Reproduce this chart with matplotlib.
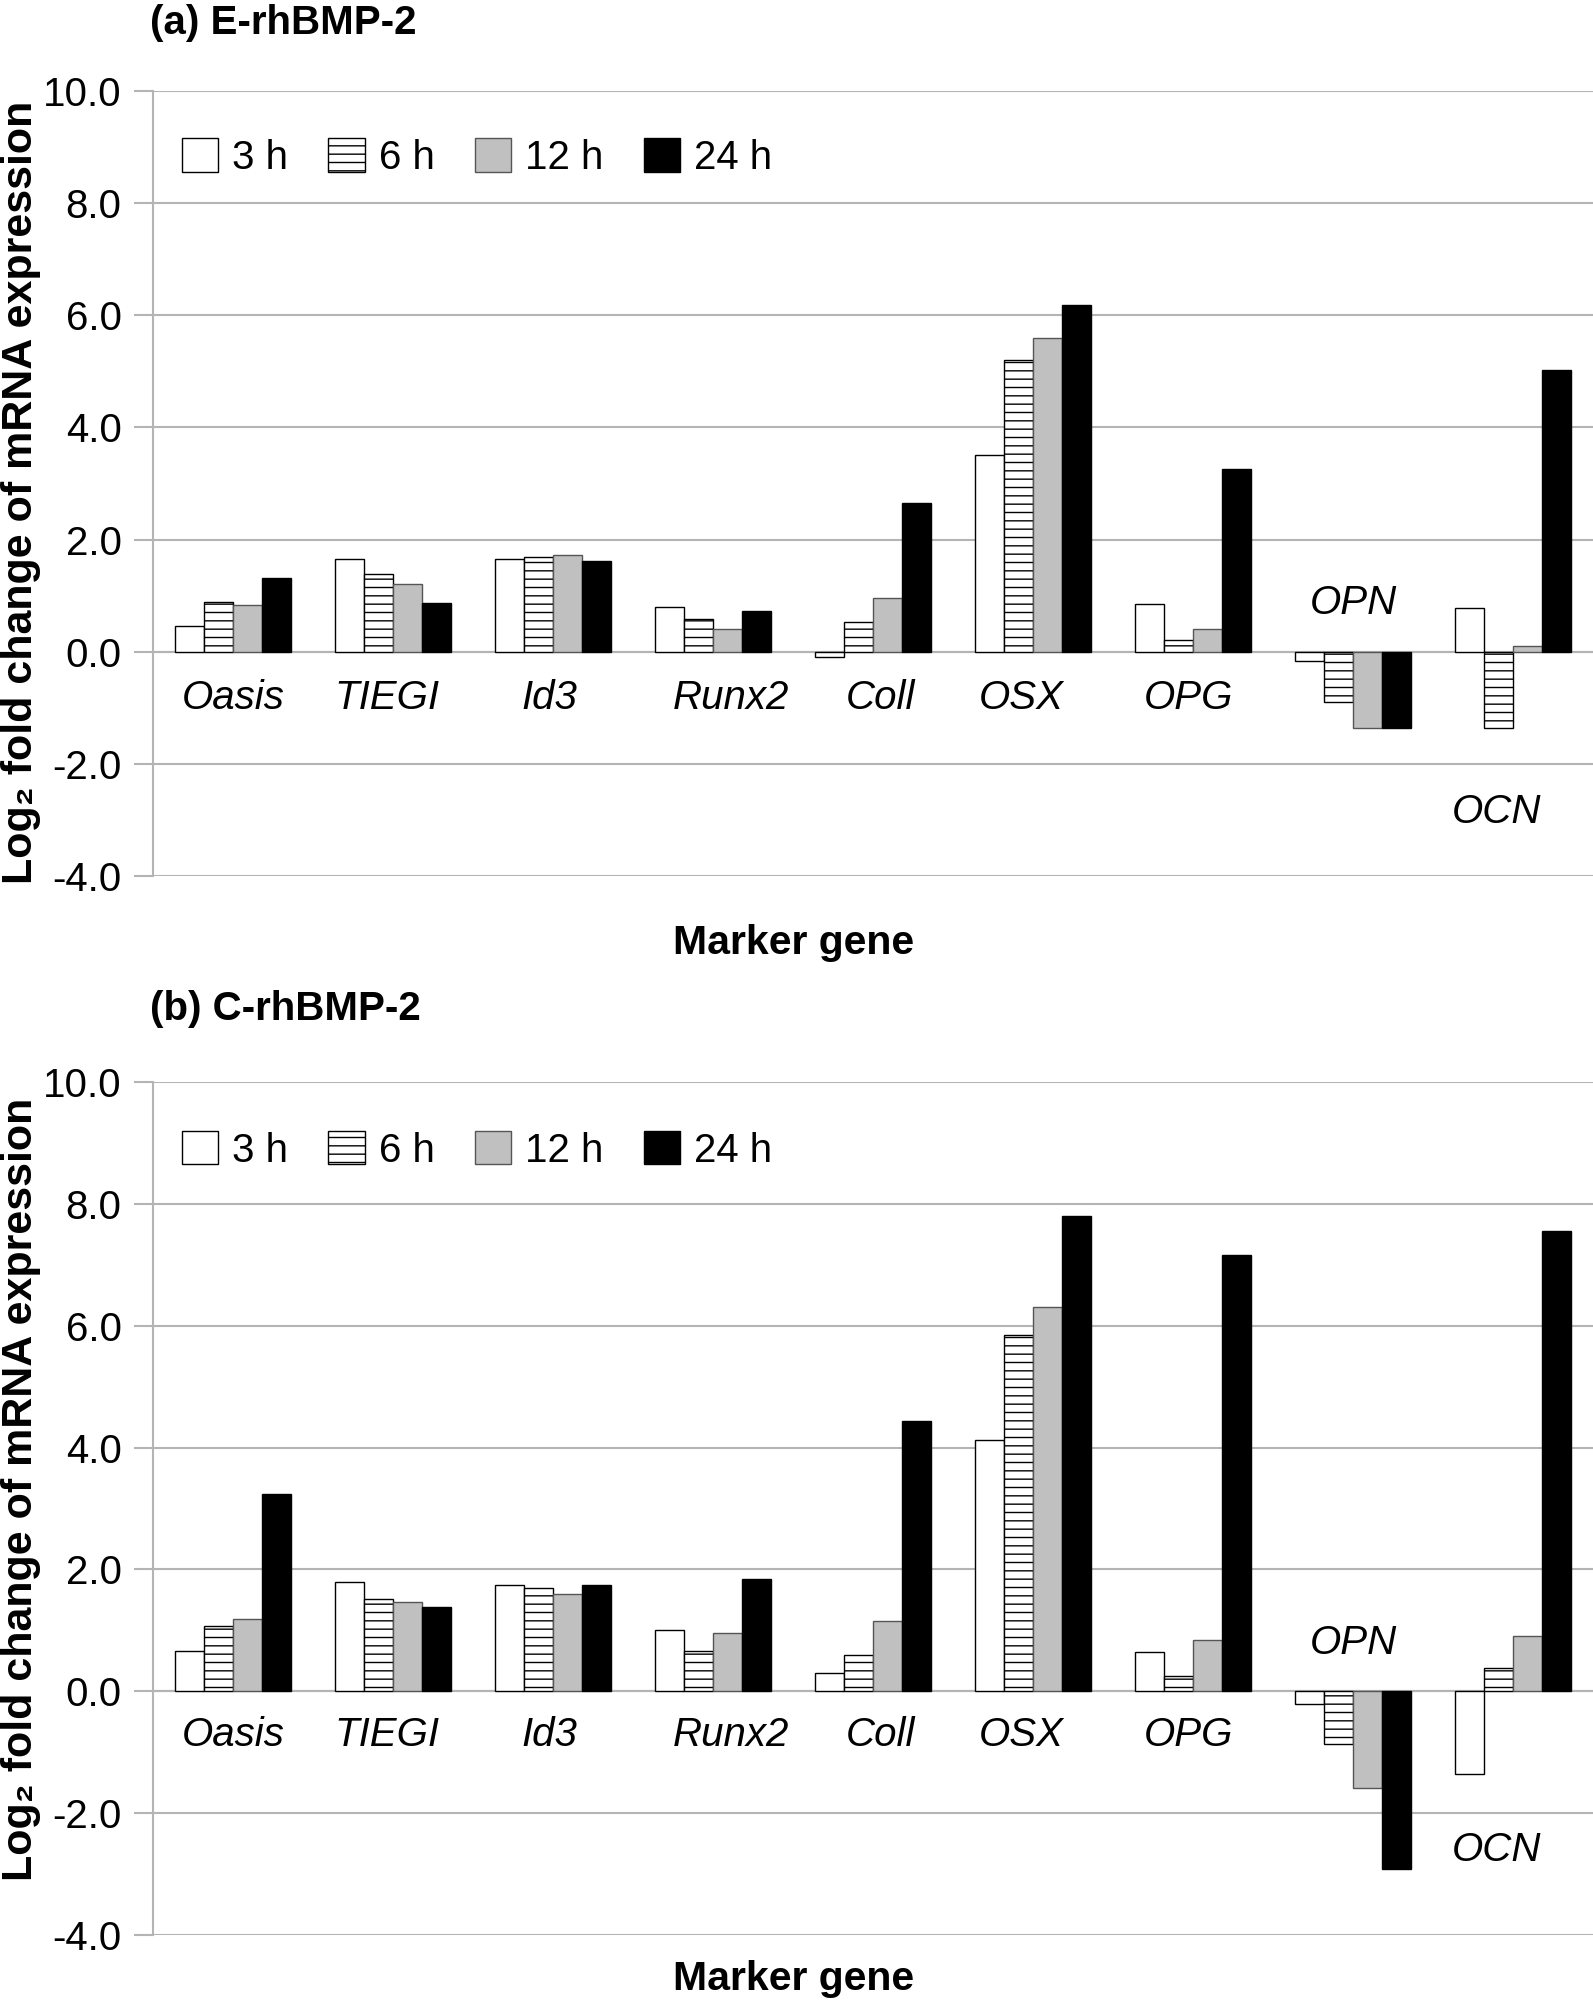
import matplotlib
matplotlib.use("Agg")
import matplotlib.pyplot as plt
from matplotlib.patches import Patch
import numpy as np

plt.rcParams['font.family'] = ['Liberation Sans', 'DejaVu Sans']
plt.rcParams['hatch.linewidth'] = 1.0

genes = ["Oasis", "TIEGI", "Id3", "Runx2", "Coll", "OSX", "OPG", "OPN", "OCN"]
times = ["3 h", "6 h", "12 h", "24 h"]

# (a) E-rhBMP-2, one list per time point
e_3h = [0.46, 1.66, 1.66, 0.80, -0.10, 3.50, 0.85, -0.17, 0.78]
e_6h = [0.89, 1.38, 1.69, 0.59, 0.53, 5.20, 0.21, -0.90, -1.36]
e_12h = [0.83, 1.20, 1.73, 0.41, 0.95, 5.60, 0.41, -1.36, 0.10]
e_24h = [1.31, 0.86, 1.62, 0.73, 2.66, 6.18, 3.26, -1.36, 5.03]

# (b) C-rhBMP-2
c_3h = [0.66, 1.79, 1.75, 1.00, 0.30, 4.12, 0.65, -0.20, -1.35]
c_6h = [1.07, 1.52, 1.70, 0.66, 0.59, 5.85, 0.25, -0.87, 0.38]
c_12h = [1.18, 1.47, 1.59, 0.95, 1.16, 6.31, 0.84, -1.58, 0.90]
c_24h = [3.23, 1.39, 1.75, 1.84, 4.44, 7.80, 7.16, -2.91, 7.56]

# small horizontal nudges of the gene names (category units), as in the original
lab_dx = [0.0, -0.04, -0.02, 0.11, 0.05, -0.07, -0.03, 0.0, -0.10]

styles = [
    dict(facecolor="white", edgecolor="black", hatch=None),
    dict(facecolor="white", edgecolor="black", hatch="--"),
    dict(facecolor="#c0c0c0", edgecolor="#555555", hatch=None),
    dict(facecolor="black", edgecolor="black", hatch=None),
]
grid_col = "#b4b4b4"
FS = 29

fig = plt.figure(figsize=(15.93, 20.04), dpi=100)
ax_a = fig.add_axes([0.0960, 0.5629, 0.904, 0.3917])
ax_b = fig.add_axes([0.0960, 0.0344, 0.904, 0.4257])


def panel(ax, series, lab_y, opn_y, ocn_y, leg_y):
    x = np.arange(len(genes))
    w = 0.18
    for k, vals in enumerate(series):
        st = styles[k]
        ax.bar(x + (k - 1.5) * w, vals, w, facecolor=st["facecolor"],
               edgecolor=st["edgecolor"], hatch=st["hatch"], linewidth=1.0,
               zorder=3)
    ax.set_xlim(-0.5, len(genes) - 0.5)
    ax.set_ylim(-4, 10)
    ax.set_yticks(np.arange(-4, 10.1, 2))
    ax.set_yticklabels(["%.1f" % v for v in np.arange(-4, 10.1, 2)], fontsize=FS)
    ax.set_xticks([])
    ax.grid(axis="y", color=grid_col, linewidth=1.5, zorder=0)
    ax.tick_params(axis="y", direction="out", length=13.5, width=1.5,
                   color=grid_col, pad=9)
    for s in ["top", "right", "bottom"]:
        ax.spines[s].set_visible(False)
    ax.spines["left"].set_color(grid_col)
    ax.spines["left"].set_linewidth(1.5)
    ax.axhline(0, color=grid_col, linewidth=1.5, zorder=2)
    for i, g in enumerate(genes):
        if g == "OPN":
            yy = opn_y
        elif g == "OCN":
            yy = ocn_y
        else:
            yy = lab_y
        ax.text(i + lab_dx[i], yy, g, ha="center", va="baseline", fontsize=FS,
                style="italic")
    handles = [Patch(facecolor=s["facecolor"], edgecolor=s["edgecolor"],
                     hatch=s["hatch"], linewidth=1.0) for s in styles]
    ax.legend(handles, times, loc="center left", bbox_to_anchor=(0.020, leg_y),
              ncol=4, frameon=False, fontsize=FS, handlelength=0.9,
              handleheight=0.9, handletextpad=0.35, columnspacing=1.0,
              borderpad=0, borderaxespad=0)


panel(ax_a, [e_3h, e_6h, e_12h, e_24h], -1.03, 0.68, -3.05, 0.915)
panel(ax_b, [c_3h, c_6h, c_12h, c_24h], -0.90, 0.62, -2.79, 0.920)

fig.text(150 / 1593, 1 - 23 / 2004, "(a) E-rhBMP-2", fontsize=FS,
         fontweight="bold", ha="left", va="center")
fig.text(150 / 1593, 1 - 1009 / 2004, "(b) C-rhBMP-2", fontsize=FS,
         fontweight="bold", ha="left", va="center")
fig.text(794 / 1593, 1 - 943 / 2004, "Marker gene", fontsize=29.5,
         fontweight="bold", ha="center", va="center")
fig.text(794 / 1593, 1 - 1979 / 2004, "Marker gene", fontsize=29.5,
         fontweight="bold", ha="center", va="center")
ylab = "Log\u2082 fold change of mRNA expression"
fig.text(21 / 1593, 1 - 492 / 2004, ylab, fontsize=31, fontweight="bold",
         rotation=90, ha="center", va="center")
fig.text(21 / 1593, 1 - 1489 / 2004, ylab, fontsize=31, fontweight="bold",
         rotation=90, ha="center", va="center")

fig.savefig("out.png", dpi=100)
